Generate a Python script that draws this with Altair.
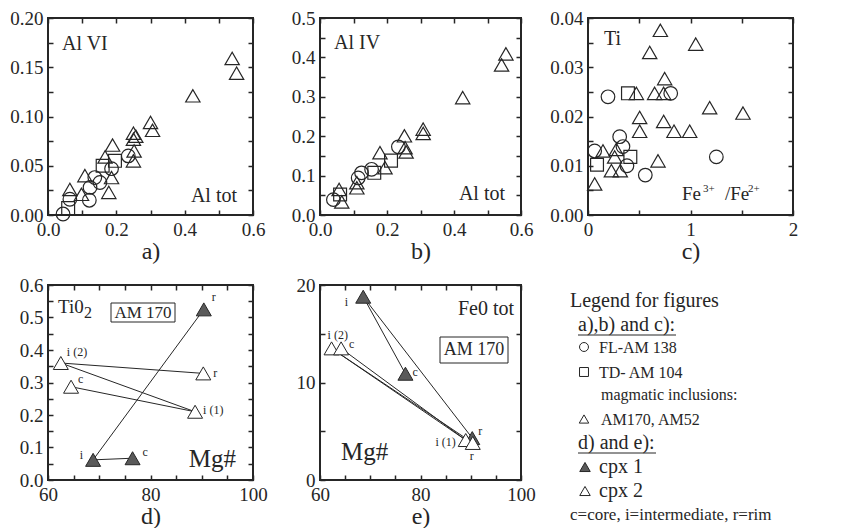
import altair as alt
import pandas as pd

FONT = "Liberation Serif"
INK = "#262626"
FILL = "#5a5a5a"
TICK = 5

# ---------------- data ----------------
# panel a) Al VI vs Al tot
A_CIRCLES = [(0.044, 0.001), (0.064, 0.016), (0.121, 0.015), (0.123, 0.028), (0.137, 0.038),
             (0.152, 0.033), (0.186, 0.047), (0.235, 0.060)]
A_SQUARES = [(0.059, 0.007), (0.160, 0.050), (0.196, 0.055)]
A_TRIANGLES = [(0.539, 0.159), (0.552, 0.144), (0.424, 0.121), (0.300, 0.094), (0.306, 0.086),
               (0.250, 0.083), (0.257, 0.080), (0.250, 0.077), (0.252, 0.065), (0.250, 0.055),
               (0.189, 0.071), (0.167, 0.059), (0.186, 0.038), (0.178, 0.023), (0.108, 0.040),
               (0.098, 0.021), (0.064, 0.026)]

# panel b) Al IV vs Al tot
B_CIRCLES = [(0.040, 0.039), (0.114, 0.094), (0.124, 0.107), (0.154, 0.116), (0.234, 0.173)]
B_SQUARES = [(0.060, 0.052), (0.162, 0.107), (0.212, 0.138)]
B_TRIANGLES = [(0.555, 0.409), (0.542, 0.381), (0.426, 0.298), (0.308, 0.218), (0.308, 0.207),
               (0.252, 0.201), (0.254, 0.171), (0.257, 0.160), (0.179, 0.158), (0.194, 0.120),
               (0.110, 0.082), (0.110, 0.069), (0.057, 0.065), (0.065, 0.033)]

# panel c) Ti vs Fe3+/Fe2+
C_CIRCLES = [(0.195, 0.0240), (0.807, 0.0247), (0.309, 0.0159), (0.341, 0.0139), (0.065, 0.0130),
             (0.380, 0.0100), (0.559, 0.0081), (1.252, 0.0118)]
C_SQUARES = [(0.390, 0.0247), (0.088, 0.0102), (0.413, 0.0118)]
C_TRIANGLES = [(0.706, 0.0375), (1.051, 0.0347), (0.602, 0.0330), (0.748, 0.0277), (0.472, 0.0247),
               (0.650, 0.0247), (0.738, 0.0247), (1.187, 0.0218), (1.512, 0.0207), (0.504, 0.0198),
               (0.738, 0.0190), (0.504, 0.0170), (0.839, 0.0170), (0.992, 0.0170), (0.146, 0.0130),
               (0.276, 0.0133), (0.260, 0.0118), (0.683, 0.0110), (0.228, 0.0090), (0.315, 0.0090),
               (0.065, 0.0063)]

# panel d) TiO2 vs Mg#  (AM 170)
D_CPX1 = {"i": (68.8, 0.062), "c": (76.5, 0.067), "r": (90.4, 0.525)}
D_CPX2 = {"i (2)": (62.5, 0.360), "c": (64.5, 0.287), "i (1)": (88.7, 0.210), "r": (90.3, 0.328)}
D_LINKS1 = [("i", "r"), ("i", "c")]
D_LINKS2 = [("i (2)", "r"), ("i (2)", "i (1)"), ("c", "i (1)")]

# panel e) FeO tot vs Mg#  (AM 170)
E_CPX1 = {"i": (68.6, 18.8), "c": (77.0, 10.9), "r": (90.3, 4.3)}
E_CPX2 = {"i (2)": (62.3, 13.5), "c": (64.2, 13.5), "i (1)": (89.0, 4.1), "r": (90.4, 3.8)}
E_LINKS1 = [("i", "c"), ("i", "r")]
E_LINKS2 = [("i (2)", "r"), ("i (2)", "i (1)"), ("c", "i (1)")]

# label placement (pixel offsets dx, dy, align)
D_LAB1 = {"i": (-10, -5, "right"), "c": (10, -6, "left"), "r": (8, -12, "left")}
D_LAB2 = {"i (2)": (6, -11, "left"), "c": (7, -8, "left"), "i (1)": (8, -2, "left"), "r": (10, 0, "left")}
E_LAB1 = {"i": (-15, 5, "right"), "c": (7, -2, "left"), "r": (6, -7, "left")}
E_LAB2 = {"i (2)": (-4, -13, "left"), "c": (8, -4, "left"), "i (1)": (-10, 2, "right"), "r": (-1, 13, "center")}


def pts(pairs):
    return pd.DataFrame(pairs, columns=["x", "y"])


def scale(dom):
    return alt.Scale(domain=dom, nice=False, zero=False)


def frame_layers(df, sx, sy, xvals, xexpr, yvals, yexpr, title):
    common = dict(offset=-TICK, tickSize=TICK, domain=False, grid=False)
    main = alt.Chart(df).mark_point(opacity=0).encode(
        x=alt.X("x:Q", scale=sx, axis=alt.Axis(orient="bottom", values=xvals, labelExpr=xexpr, title=title,
                                                labelPadding=5, titlePadding=0, labelOverlap=False,
                                                labelFlush=False, **common)),
        y=alt.Y("y:Q", scale=sy, axis=alt.Axis(orient="left", values=yvals, labelExpr=yexpr, title=None,
                                                labelPadding=5, labelOverlap=False, **common)),
    )
    mirror = alt.Chart(df).mark_point(opacity=0).encode(
        x=alt.X("x:Q", scale=sx, axis=alt.Axis(orient="top", values=xvals, labels=False, title=None, **common)),
        y=alt.Y("y:Q", scale=sy, axis=alt.Axis(orient="right", values=yvals, labels=False, title=None, **common)),
    )
    return [main, mirror]


def sym(pairs, shape, size, sx, sy):
    return alt.Chart(pts(pairs)).mark_point(shape=shape, size=size, filled=False, stroke=INK,
                                            strokeWidth=1.2, opacity=1).encode(
        x=alt.X("x:Q", scale=sx, axis=None), y=alt.Y("y:Q", scale=sy, axis=None))


def label(t, px, py, size, align="left", baseline="alphabetic"):
    return alt.Chart(pd.DataFrame({"t": [t]})).mark_text(
        font=FONT, fontSize=size, color=INK, fill=INK, align=align, baseline=baseline).encode(
        x=alt.value(px), y=alt.value(py), text="t:N")


def box(x1, x2, y1, y2):
    return alt.Chart(pd.DataFrame({"k": [0]})).mark_rect(fill="white", stroke=INK, strokeWidth=1).encode(
        x=alt.value(x1), x2=alt.value(x2), y=alt.value(y1), y2=alt.value(y2))


def scatter_panel(circles, squares, triangles, xdom, ydom, xvals, xexpr, yvals, yexpr, title, texts, w, h):
    sx, sy = scale(xdom), scale(ydom)
    df = pts(circles + squares + triangles)
    layers = frame_layers(df, sx, sy, xvals, xexpr, yvals, yexpr, title)
    layers += [sym(circles, "circle", 185, sx, sy),
               sym(squares, "square", 165, sx, sy),
               sym(triangles, "triangle-up", 205, sx, sy)]
    layers += texts
    return alt.layer(*layers).resolve_axis(x="independent", y="independent").properties(width=w, height=h)


def links_df(points, links, prefix):
    rows = []
    for k, (a, b) in enumerate(links):
        for o, n in enumerate((a, b)):
            x, y = points[n]
            rows.append({"seg": f"{prefix}{k}", "o": o, "x": x, "y": y})
    return rows


def point_labels(points, offsets, sx, sy):
    out = []
    for name, (x, y) in points.items():
        dx, dy, align = offsets[name]
        df = pd.DataFrame({"x": [x], "y": [y], "t": [name]})
        out.append(alt.Chart(df).mark_text(font=FONT, fontSize=12, color=INK, fill=INK, align=align,
                                           baseline="middle", dx=dx, dy=dy).encode(
            x=alt.X("x:Q", scale=sx, axis=None), y=alt.Y("y:Q", scale=sy, axis=None), text="t:N"))
    return out


def cpx_panel(cpx1, cpx2, links1, links2, lab1, lab2, ydom, yvals, yexpr, title, texts, w, h):
    sx, sy = scale([60, 100]), scale(ydom)
    xvals = list(range(60, 101, 5))
    xexpr = "datum.value % 20 == 0 ? format(datum.value, 'd') : ''"
    df1 = pd.DataFrame([{"x": v[0], "y": v[1]} for v in cpx1.values()])
    df2 = pd.DataFrame([{"x": v[0], "y": v[1]} for v in cpx2.values()])
    layers = frame_layers(pd.concat([df1, df2]), sx, sy, xvals, xexpr, yvals, yexpr, title)
    ldf = pd.DataFrame(links_df(cpx1, links1, "a") + links_df(cpx2, links2, "b"))
    layers.append(alt.Chart(ldf).mark_line(color=INK, strokeWidth=1).encode(
        x=alt.X("x:Q", scale=sx, axis=None), y=alt.Y("y:Q", scale=sy, axis=None),
        detail="seg:N", order="o:Q"))
    layers += texts
    layers.append(alt.Chart(df1).mark_point(shape="triangle-up", size=225, filled=True, fill=FILL,
                                            stroke=INK, strokeWidth=1, opacity=1).encode(
        x=alt.X("x:Q", scale=sx, axis=None), y=alt.Y("y:Q", scale=sy, axis=None)))
    layers.append(alt.Chart(df2).mark_point(shape="triangle-up", size=225, filled=True, fill="white",
                                            stroke=INK, strokeWidth=1, opacity=1).encode(
        x=alt.X("x:Q", scale=sx, axis=None), y=alt.Y("y:Q", scale=sy, axis=None)))
    layers += point_labels(cpx1, lab1, sx, sy)
    layers += point_labels(cpx2, lab2, sx, sy)
    return alt.layer(*layers).resolve_axis(x="independent", y="independent").properties(width=w, height=h)


ALX = "round(datum.value*10) % 2 == 0 ? format(datum.value, '.1f') : ''"

panel_a = scatter_panel(
    A_CIRCLES, A_SQUARES, A_TRIANGLES, [0, 0.6], [0, 0.2],
    [0, 0.1, 0.2, 0.3, 0.4, 0.5, 0.6], ALX,
    [0, 0.025, 0.05, 0.075, 0.1, 0.125, 0.15, 0.175, 0.2],
    "round(datum.value*1000) % 50 == 0 ? format(datum.value, '.2f') : ''", "a)",
    [label("Al VI", 14, 32, 20), label("Al tot", 189, 184, 20, "right")], 205, 197)

panel_b = scatter_panel(
    B_CIRCLES, B_SQUARES, B_TRIANGLES, [0, 0.6], [0, 0.5],
    [0, 0.1, 0.2, 0.3, 0.4, 0.5, 0.6], ALX,
    [0, 0.05, 0.1, 0.15, 0.2, 0.25, 0.3, 0.35, 0.4, 0.45, 0.5],
    "round(datum.value*100) % 10 == 0 ? format(datum.value, '.1f') : ''", "b)",
    [label("Al IV", 14, 31, 20), label("Al tot", 185, 182, 20, "right")], 201, 197)

panel_c = scatter_panel(
    C_CIRCLES, C_SQUARES, C_TRIANGLES, [0, 2], [0, 0.04],
    [0, 0.5, 1, 1.5, 2], "round(datum.value*10) % 10 == 0 ? format(datum.value, '.0f') : ''",
    [0, 0.005, 0.01, 0.015, 0.02, 0.025, 0.03, 0.035, 0.04],
    "round(datum.value*1000) % 10 == 0 ? format(datum.value, '.2f') : ''", "c)",
    [label("Ti", 16, 27, 20), label("Fe", 94, 182, 19), label("3+", 115, 174, 11),
     label("/Fe", 137, 182, 19), label("2+", 160, 174, 11)], 205, 197)

panel_d = cpx_panel(
    D_CPX1, D_CPX2, D_LINKS1, D_LINKS2, D_LAB1, D_LAB2, [0, 0.6],
    [round(0.05 * k, 2) for k in range(13)],
    "round(datum.value*100) % 10 == 0 ? format(datum.value, '.1f') : ''", "d)",
    [label("Ti0", 10, 28, 19), label("2", 36, 33, 16),
     box(63, 127, 18, 37), label("AM 170", 95, 28, 17, "center", "middle"),
     label("Mg#", 188, 182, 25, "right")], 205, 195)

panel_e = cpx_panel(
    E_CPX1, E_CPX2, E_LINKS1, E_LINKS2, E_LAB1, E_LAB2, [0, 20],
    [0, 5, 10, 15, 20], "datum.value % 10 == 0 ? format(datum.value, 'd') : ''", "e)",
    [label("Fe0 tot", 194, 30, 20, "right"),
     box(120, 188, 52, 78), label("AM 170", 154, 65, 18, "center", "middle"),
     label("Mg#", 21, 175, 25)], 201, 195)

# legend block (origin = top-left of the third cell in row 2)
LX = -37
LEG_ROWS = [
    ("Legend for figures", 19, 22, 20),
    ("a),b) and c):", 27, 46, 20),
    ("FL-AM 138", 48, 68, 16),
    ("TD- AM 104", 48, 93, 16),
    ("magmatic inclusions:", 50, 115, 16),
    ("AM170, AM52", 50, 140, 16),
    ("d) and e):", 27, 164, 20),
    ("cpx 1", 48, 188, 20),
    ("cpx 2", 48, 212, 20),
    ("c=core, i=intermediate, r=rim", 19, 235, 17),
]
leg_layers = [label(t, x + LX, y, s) for t, x, y, s in LEG_ROWS]


def rule(x1, x2, y):
    return alt.Chart(pd.DataFrame({"k": [0]})).mark_rule(color=INK, strokeWidth=1).encode(
        x=alt.value(x1), x2=alt.value(x2), y=alt.value(y))


def leg_sym(shape, x, y, size, filled):
    return alt.Chart(pd.DataFrame({"k": [0]})).mark_point(
        shape=shape, size=size, filled=True, fill=(FILL if filled else "white"), stroke=INK,
        strokeWidth=1, opacity=1).encode(x=alt.value(x), y=alt.value(y))


leg_layers += [rule(27 + LX, 125 + LX, 50), rule(27 + LX, 105 + LX, 168),
               leg_sym("circle", 33 + LX, 62, 80, False), leg_sym("square", 33 + LX, 87, 80, False),
               leg_sym("triangle-up", 33 + LX, 134, 90, False),
               leg_sym("triangle-up", 34 + LX, 182, 110, True),
               leg_sym("triangle-up", 34 + LX, 206, 110, False)]
legend = alt.layer(*leg_layers).properties(width=205, height=195,
                                           view=alt.ViewBackground(stroke="transparent"))

chart = alt.concat(panel_a, panel_b, panel_c, panel_d, panel_e, legend, columns=3,
                   spacing=alt.RowColnumber(row=70, column=67), bounds="flush").properties(
    padding=0).configure(font=FONT).configure_view(stroke=INK, strokeWidth=2).configure_axis(
    labelFont=FONT, labelFontSize=19, labelColor=INK, titleFont=FONT, titleFontSize=24,
    titleFontWeight="normal", titleColor=INK, tickColor=INK, tickWidth=1.5)

chart.save("out.html", embed_options={"renderer": "svg", "actions": False})
